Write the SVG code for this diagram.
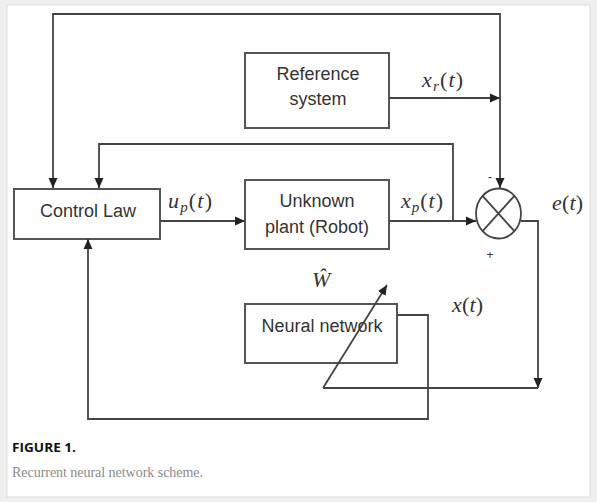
<svg xmlns="http://www.w3.org/2000/svg" width="597" height="502" viewBox="0 0 597 502">
<defs>
<marker id="ah" markerUnits="userSpaceOnUse" markerWidth="11" markerHeight="10" refX="10" refY="5" orient="auto" viewBox="0 0 11 10">
<path d="M0,0.5 L10,5 L0,9.5 z" fill="#222"/>
</marker>
<style>
.box{fill:#fff;stroke:#555;stroke-width:2}
.ln{fill:none;stroke:#444;stroke-width:1.8}
.lbl{font-family:"Liberation Sans",Arial,sans-serif;font-size:18px;fill:#333;text-anchor:middle}
.m{font-family:"Liberation Serif","Times New Roman",serif;font-size:22px;fill:#333;font-style:italic}
.up{font-style:normal}
.sg{font-family:"Liberation Sans",Arial,sans-serif;font-size:12px;fill:#333;text-anchor:middle}
</style>
</defs>
<rect x="0" y="0" width="597" height="502" fill="#efefef"/>
<rect x="7" y="5" width="583" height="492" fill="#fff" stroke="#dcdcdc" stroke-width="1"/>

<g id="control-law">
<rect class="box" x="14" y="189" width="146" height="50"/>
<text class="lbl" x="88" y="217">Control Law</text>
</g>

<g id="reference-system">
<rect class="box" x="245" y="53" width="144" height="75"/>
<text class="lbl" x="318" y="80">Reference</text>
<text class="lbl" x="318" y="105">system</text>
</g>

<g id="unknown-plant">
<rect class="box" x="245" y="180" width="144" height="69"/>
<text class="lbl" x="317" y="207">Unknown</text>
<text class="lbl" x="317" y="233">plant (Robot)</text>
</g>

<g id="neural-network">
<rect class="box" x="245" y="304" width="152" height="59"/>
<text class="lbl" x="322" y="332">Neural network</text>
</g>

<g id="junction">
<ellipse cx="498.5" cy="213.5" rx="22.5" ry="25" fill="#fff" stroke="#444" stroke-width="1.8"/>
<path class="ln" d="M482.6,195.8 L514.4,231.2 M514.4,195.8 L482.6,231.2"/>
<text class="sg" x="490" y="181">-</text>
<text class="sg" x="490" y="259">+</text>
</g>

<g id="connectors">
<path class="ln" d="M500,98 L500,14 L53,14 L53,188" marker-end="url(#ah)"/>
<path class="ln" d="M500,98 L500,188" marker-end="url(#ah)"/>
<path class="ln" d="M389,98 L500,98" marker-end="url(#ah)"/>
<path class="ln" d="M160,221 L245,221" marker-end="url(#ah)"/>
<path class="ln" d="M389,221 L476,221" marker-end="url(#ah)"/>
<path class="ln" d="M453,221 L453,144 L99,144 L99,188" marker-end="url(#ah)"/>
<path class="ln" d="M521,221 L538,221 L538,388" marker-end="url(#ah)"/>
<path class="ln" d="M538,388 L323,388"/>
<path class="ln" d="M323,388 L387,285" marker-end="url(#ah)"/>
<path class="ln" d="M397,315 L428,315 L428,419 L88,419 L88,239" marker-end="url(#ah)"/>
</g>

<g id="labels">
<text class="m" x="168" y="208" textLength="44" lengthAdjust="spacing">u<tspan font-size="15" dy="4">p</tspan><tspan class="up" dy="-4">(</tspan>t<tspan class="up">)</tspan></text>
<text class="m" x="422" y="87" textLength="41" lengthAdjust="spacing">x<tspan font-size="15" dy="4">r</tspan><tspan class="up" dy="-4">(</tspan>t<tspan class="up">)</tspan></text>
<text class="m" x="401" y="208" textLength="42" lengthAdjust="spacing">x<tspan font-size="15" dy="4">p</tspan><tspan class="up" dy="-4">(</tspan>t<tspan class="up">)</tspan></text>
<text class="m" x="552" y="210" textLength="31" lengthAdjust="spacing">e<tspan class="up">(</tspan>t<tspan class="up">)</tspan></text>
<text class="m" x="452" y="312" textLength="31" lengthAdjust="spacing">x<tspan class="up">(</tspan>t<tspan class="up">)</tspan></text>
<text class="m" x="312" y="287" font-size="19">Ŵ</text>
</g>

<g id="caption">
<text x="12" y="452" font-family="'Open Sans','Liberation Sans',sans-serif" font-weight="bold" font-size="13" fill="#111" textLength="64" lengthAdjust="spacingAndGlyphs">FIGURE 1.</text>
<text x="12" y="477" font-family="'Liberation Serif','Times New Roman',serif" font-size="14" fill="#8a8a8a" textLength="191" lengthAdjust="spacing">Recurrent neural network scheme.</text>
</g>
</svg>
